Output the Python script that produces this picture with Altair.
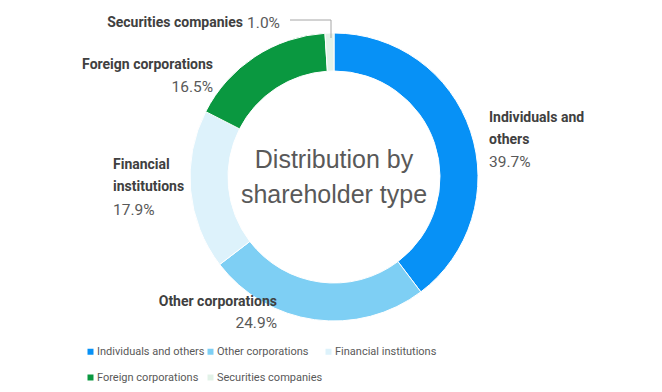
import altair as alt
import pandas as pd

categories = ["Individuals and others", "Other corporations", "Financial institutions",
              "Foreign corporations", "Securities companies"]
label_names = ["Individuals and\nothers", "Other corporations", "Financial\ninstitutions",
               "Foreign corporations", "Securities companies"]
shares = [39.7, 24.9, 17.9, 16.5, 1.0]
colors = ["#0791F6", "#7ECFF4", "#DDF2FB", "#0A9840", "#E2F2E8"]
center_title = ["Distribution by", "shareholder type"]

df = pd.DataFrame({
    "category": categories,
    "label": label_names,
    "share": shares,
    "idx": list(range(len(categories))),
})
df["pct"] = [f"{v:.1f}%" for v in shares]

LBL = "Roboto, sans-serif"
REG = "Liberation Sans, Arial, sans-serif"
CX, CY = 326, 169
R_OUT, R_IN = 144, 106

theta_scale = alt.Scale(domain=[0, 100])

arcs = alt.Chart(df).mark_arc(
    radius=R_OUT, radius2=R_IN, stroke="white", strokeWidth=1
).encode(
    theta=alt.Theta("share:Q", stack=True, scale=theta_scale),
    color=alt.Color("category:N",
                    scale=alt.Scale(domain=categories, range=colors),
                    legend=alt.Legend(title=None)),
    order=alt.Order("idx:Q"),
    x=alt.value(CX), y=alt.value(CY),
)

# label layout: align, name dx, name dy (first line), value dx, value dy
layout = {
    "Individuals and others": ("left", 18.5, -13.2, 18.5, 31),
    "Other corporations": ("right", -37.6, -17.7, -37.6, 3.3),
    "Financial institutions": ("left", -77.6, -25.1, -77.6, 19.9),
    "Foreign corporations": ("right", -41.9, 8.4, -41.9, 30.4),
    "Securities companies": ("right", -86.5, -10, -49.5, -10),
}

base_txt = alt.Chart(df).transform_window(
    cum="sum(share)", sort=[alt.SortField("idx")]
).transform_calculate(mid="datum.cum - datum.share / 2")

layers = [arcs]
for cat in categories:
    align, ndx, ndy, vdx, vdy = layout[cat]
    sub = base_txt.transform_filter(alt.datum.category == cat)
    enc = dict(theta=alt.Theta("mid:Q", stack=None, scale=theta_scale),
               x=alt.value(CX), y=alt.value(CY))
    layers.append(sub.mark_text(
        radius=R_OUT, align=align, baseline="middle", dx=ndx, dy=ndy,
        font=LBL, fontSize=14, fontWeight="bold", color="#404040",
        lineBreak="\n", lineHeight=22
    ).encode(text="label:N", **enc))
    layers.append(sub.mark_text(
        radius=R_OUT, align=align, baseline="middle", dx=vdx, dy=vdy,
        font=LBL, fontSize=15.5, color="#595959"
    ).encode(text="pct:N", **enc))

center = alt.Chart(pd.DataFrame({"t": [center_title]})).mark_text(
    font=REG, fontSize=25, color="#595959", baseline="middle", align="center",
    lineHeight=35, dy=-17
).encode(text="t", x=alt.value(CX), y=alt.value(CY))

leader_h = alt.Chart(df).transform_filter(alt.datum.idx == 0).mark_rule(
    color="#A6A6A6", strokeWidth=1
).encode(x=alt.value(282), x2=alt.value(323), y=alt.value(12))
leader_v = alt.Chart(df).transform_filter(alt.datum.idx == 0).mark_rule(
    color="#A6A6A6", strokeWidth=1
).encode(x=alt.value(323), y=alt.value(12), y2=alt.value(30))

chart = alt.layer(*layers, center, leader_h, leader_v).properties(
    width=646, height=376, autosize=alt.AutoSizeParams(type="none"), padding=0
).configure_view(stroke=None).configure_legend(
    orient="none", legendX=77, legendY=338, columns=3, direction="horizontal",
    gridAlign="each", columnPadding=0, rowPadding=14,
    labelFont=LBL, labelFontSize=11, labelColor="#595959",
    symbolType="square", symbolSize=36, symbolStrokeWidth=0, labelOffset=1,
    labelLimit=0
)

chart.save("out.html", embed_options={"renderer": "svg", "actions": False})
